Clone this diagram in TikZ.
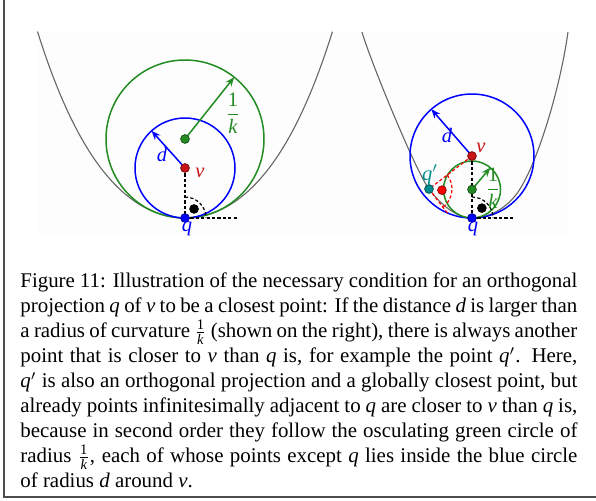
\documentclass[tikz,border=0pt]{standalone}
\usepackage{fontspec}
\setmainfont{Liberation Serif}
\usetikzlibrary{calc,arrows.meta}
\definecolor{myblue}{RGB}{0,0,255}
\definecolor{mygreen}{RGB}{34,139,34}
\definecolor{myred}{RGB}{200,20,20}
\definecolor{myteal}{RGB}{0,140,140}
\definecolor{brightred}{RGB}{255,0,0}
\newcommand\capfrac{$\frac{\mbox{\fontsize{7.3}{7}\selectfont 1}}{\mbox{\fontsize{7.3}{7}\selectfont\itshape k}}$}
\begin{document}
\begin{tikzpicture}[x=0.5pt,y=-0.5pt,
  curve/.style={draw=black!60,line width=0.55pt},
  bcirc/.style={draw=myblue,line width=0.75pt},
  gcirc/.style={draw=mygreen,line width=0.75pt},
  barrow/.style={draw=myblue,line width=0.75pt,-{Stealth[length=4.6pt,width=3.6pt]}},
  garrow/.style={draw=mygreen,line width=0.75pt,-{Stealth[length=4.6pt,width=3.6pt]}},
  kdash/.style={draw=black,line width=0.6pt,dash pattern=on 1.6pt off 1.1pt},
  rdash/.style={draw=brightred,line width=0.6pt,dash pattern=on 1.6pt off 1.1pt},
  dotp/.style={circle,inner sep=0pt,minimum size=4.4pt,draw=#1!55!black,fill=#1,line width=0.35pt},
  lab/.style={inner sep=0pt,font=\fontsize{10.25}{12}\selectfont\itshape},
  capline/.style={inner sep=0pt,anchor=base west,font=\fontsize{10.45}{12.5}\selectfont}]
\useasboundingbox (0,0) rectangle (596,500);
\fill[black!0.6] (38,32) rectangle (568,236);
\draw[black!70,line width=0.8pt] (4,0) -- (4,497) -- (596,497);

% ---------- left figure ----------
\coordinate (pqL) at (185,218);
\coordinate (pvL) at (185,168);
\coordinate (pcL) at (185,139);
\coordinate (hL) at (237,218);
\draw[curve] plot[domain=-1.475:1.475,samples=90,variable=\u]
  ({185+100*\u},{218-(63.3*\u*\u+10.3*\u*\u*\u*\u)});
\draw[gcirc] (pcL) circle[radius=39.5pt];
\draw[bcirc] (pvL) circle[radius=25pt];
\draw[kdash] (pvL) -- (pqL);
\draw[kdash] (pqL) -- (hL);
\draw[kdash] ($(pqL)+(90:10.5pt)$) arc[start angle=90,end angle=0,radius=10.5pt];
\coordinate (dL) at ($(pvL)+(132:25pt)$);
\draw[barrow] (pvL) -- (dL);
\coordinate (kL) at ($(pcL)+(51.5:39.5pt)$);
\draw[garrow] (pcL) -- (kL);
\node[dotp=black] (rL) at ($(pqL)+(45:6.4pt)$) {};
\node[dotp=mygreen] (cL) at (pcL) {};
\node[dotp=myred] (vL) at (pvL) {};
\node[dotp=myblue] (qL) at (pqL) {};
\node[lab,text=myred,anchor=base west] (lvL) at (195,177) {v};
\node[lab,text=myblue,anchor=base] (lqL) at (187,231) {q};
\node[lab,text=myblue,anchor=base] (ldL) at (162,161) {d};
\node[lab,text=mygreen] (lkL) at (233,113) {$\displaystyle\frac{\mbox{\upshape 1}}{\mbox{k}}$};

% ---------- right figure ----------
\coordinate (pqR) at (472,218);
\coordinate (pvR) at (472,156);
\coordinate (pcR) at (472,189.5);
\coordinate (ppR) at (429,189);
\coordinate (hR) at (515,218);
\draw[curve] (362,32) .. controls (370,60) and (416,172) .. (ppR)
  .. controls (441,205) and (457,218) .. (pqR)
  .. controls (490,218) and (505,208) .. (515,196)
  .. controls (535,172) and (560,90) .. (568,32);
\draw[bcirc] (pvR) circle[radius=31pt];
\draw[gcirc] (pcR) circle[radius=14.25pt];
\draw[kdash] (pvR) -- (pqR);
\draw[kdash] (pqR) -- (hR);
\draw[kdash] ($(pqR)+(90:10.5pt)$) arc[start angle=90,end angle=0,radius=10.5pt];
\coordinate (tR) at ($(ppR)+(-52.5:16pt)$);
\draw[rdash] (pvR) -- (ppR);
\draw[rdash] (ppR) -- (tR);
\draw[rdash] ($(ppR)+(37.5:11.5pt)$) arc[start angle=37.5,end angle=-52.5,radius=11.5pt];
\coordinate (dR) at ($(pvR)+(131:31pt)$);
\draw[barrow] (pvR) -- (dR);
\coordinate (kR) at ($(pcR)+(50:14.25pt)$);
\draw[garrow] (pcR) -- (kR);
\node[dotp=black] (rR) at ($(pqR)+(45:7pt)$) {};
\node[dotp=brightred] (mR) at ($(ppR)+(-5:6.5pt)$) {};
\node[dotp=myteal] (ppRn) at (ppR) {};
\node[dotp=mygreen] (cR) at (pcR) {};
\node[dotp=myred] (vR) at (pvR) {};
\node[dotp=myblue] (qR) at (pqR) {};
\node[lab,text=myred,anchor=base west] (lvR) at (476,152) {v};
\node[lab,text=myblue,anchor=base] (lqR) at (473,231) {q};
\node[lab,text=myblue,anchor=base] (ldR) at (447,142) {d};
\node[lab,text=myteal,anchor=base] (lpR) at (430,180) {q$'$};
\node[lab,text=mygreen] (lkR) at (493,188) {$\displaystyle\frac{\mbox{\upshape 1}}{\mbox{k}}$};

% ---------- caption ----------
\node[capline] (c1) at (20,287.5) {\makebox[278.5pt][s]{Figure 11: Illustration of the necessary condition for an orthogonal}};
\node[capline] (c2) at (20,312.5) {\makebox[278.5pt][s]{projection \textit{q} of \textit{v} to be a closest point: If the distance \textit{d} is larger than}};
\node[capline] (c3) at (20,337.5) {\makebox[278.5pt][s]{a radius of curvature \capfrac{} (shown on the right), there is always another}};
\node[capline] (c4) at (20,362.5) {\makebox[278.5pt][s]{point that is closer to \textit{v} than \textit{q} is, for example the point \textit{q}$'$. Here,}};
\node[capline] (c5) at (20,387.5) {\makebox[278.5pt][s]{\textit{q}$'$ is also an orthogonal projection and a globally closest point, but}};
\node[capline] (c6) at (20,412.5) {\makebox[278.5pt][s]{already points infinitesimally adjacent to \textit{q} are closer to \textit{v} than \textit{q} is,}};
\node[capline] (c7) at (20,437.5) {\makebox[278.5pt][s]{because in second order they follow the osculating green circle of}};
\node[capline] (c8) at (20,462.5) {\makebox[278.5pt][s]{radius \capfrac, each of whose points except \textit{q} lies inside the blue circle}};
\node[capline] (c9) at (20,487.5) {of radius \textit{d} around \textit{v}.};
\end{tikzpicture}
\end{document}
